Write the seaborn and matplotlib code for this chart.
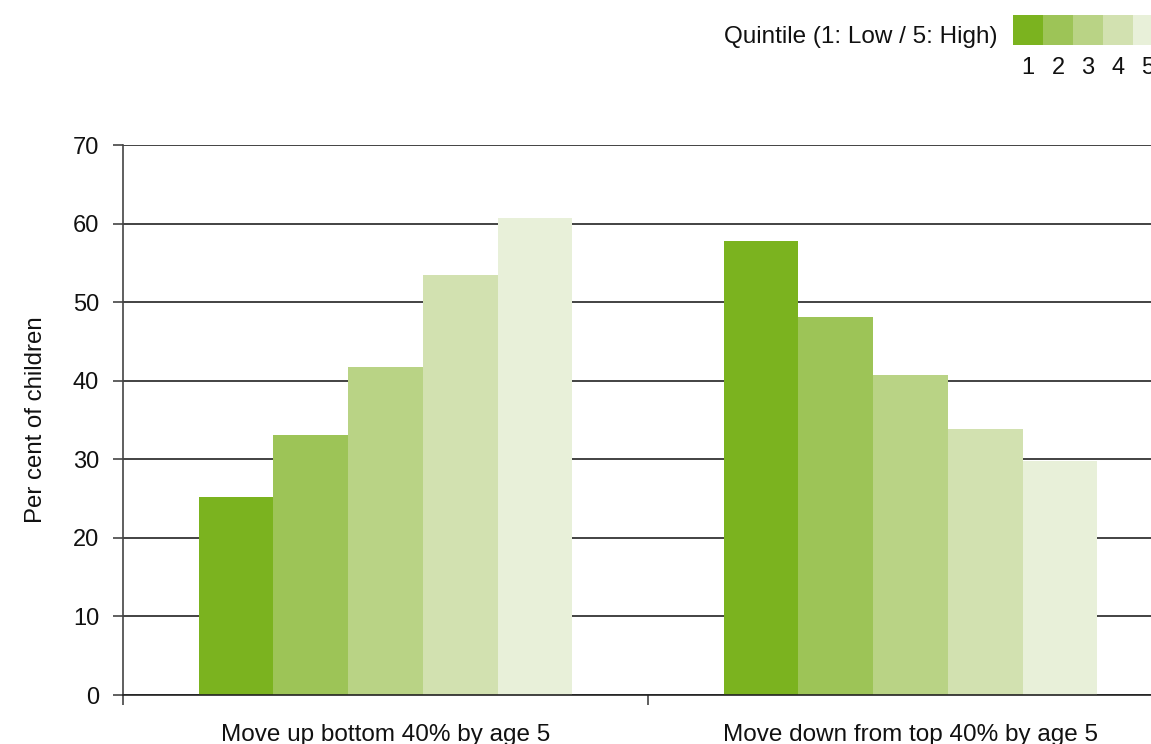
import pandas as pd
import matplotlib.pyplot as plt
import seaborn as sns

# Datos
categorias = ['Move up bottom 40% by age 5', 'Move down from top 40% by age 5']
quintiles = ['1', '2', '3', '4', '5']
subir = [25.2, 33.1, 41.7, 53.5, 60.7]
bajar = [57.8, 48.1, 40.7, 33.9, 29.8]
colores = ['#7bb31f', '#9dc457', '#b9d385', '#d2e1b0', '#e8f0d9']
yticks = [0, 10, 20, 30, 40, 50, 60, 70]

df = pd.DataFrame({
    'categoria': [categorias[0]] * 5 + [categorias[1]] * 5,
    'quintil': quintiles * 2,
    'valor': subir + bajar,
})

sns.set_style('white')
plt.rcParams['font.family'] = ['Liberation Sans', 'DejaVu Sans']
plt.rcParams['text.color'] = '#111111'
plt.rcParams['axes.labelcolor'] = '#111111'
plt.rcParams['xtick.color'] = '#111111'
plt.rcParams['ytick.color'] = '#111111'

fig = plt.figure(figsize=(11.51, 7.44), dpi=100)
ax = fig.add_axes([123 / 1151, 49 / 744, 1050 / 1151, 550 / 744])

sns.barplot(data=df, x='categoria', y='valor', hue='quintil', palette=colores,
            width=0.712, gap=0, linewidth=0, saturation=1, legend=False, ax=ax)

ax.set_xlim(-0.5, 1.5)
ax.set_ylim(0, 70)
ax.set_yticks(yticks)
ax.set_axisbelow(True)
ax.yaxis.grid(True, color='#222222', linewidth=1.2)
ax.xaxis.grid(False)
for lado in ['top', 'right']:
    ax.spines[lado].set_visible(False)
ax.spines['left'].set_color('#444444')
ax.spines['bottom'].set_color('#222222')
ax.spines['left'].set_linewidth(1.2)
ax.spines['bottom'].set_linewidth(1.2)

ax.tick_params(axis='y', left=True, length=7.2, width=1.2, color='#444444', pad=10, labelsize=17)
ax.tick_params(axis='x', which='major', bottom=False, length=0, pad=21, labelsize=17.5)
ax.set_xticks([-0.5, 0.5, 1.5], minor=True)
ax.tick_params(axis='x', which='minor', bottom=True, length=7.2, width=1.2, color='#444444')
ax.set_xlabel('')
ax.set_ylabel('Per cent of children', fontsize=17.3)
ax.yaxis.set_label_coords(-0.072, 0.5)

# Leyenda de quintiles
fig.text(997 / 1151, (744 - 37) / 744, 'Quintile (1: Low / 5: High)',
         ha='right', va='center', fontsize=17.5)
lax = fig.add_axes([1013 / 1151, (744 - 45) / 744, 150 / 1151, 30 / 744])
sns.barplot(x=quintiles, y=[1] * 5, hue=quintiles, palette=colores,
            width=1, linewidth=0, saturation=1, legend=False, ax=lax)
lax.set_xlim(-0.5, 4.5)
lax.set_ylim(0, 1)
lax.set_yticks([])
lax.tick_params(axis='x', bottom=False, length=0, pad=9, labelsize=17)
lax.set_xlabel('')
lax.set_ylabel('')
for lado in lax.spines.values():
    lado.set_visible(False)

fig.savefig('out.png', dpi=100)
